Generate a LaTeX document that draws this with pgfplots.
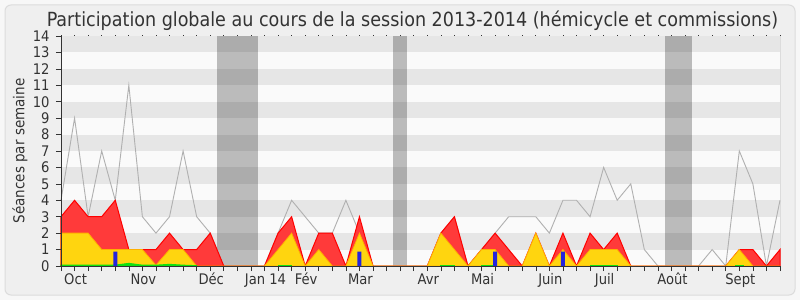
\documentclass[border=0pt]{standalone}
\usepackage{pgfplots}
\pgfplotsset{compat=1.18}
\usepackage{fontspec}
\setmainfont{DejaVu Sans Condensed}
\definecolor{txt}{HTML}{333333}
\definecolor{axisc}{HTML}{333333}
\definecolor{stripeg}{HTML}{E6E6E6}
\definecolor{stripew}{HTML}{FAFAFA}
\definecolor{grayline}{HTML}{B0B0B0}
\definecolor{redfill}{HTML}{FF3A3A}
\definecolor{rededge}{HTML}{FF0000}
\definecolor{yelfill}{HTML}{FFD50F}
\definecolor{yeledge}{HTML}{FFB000}
\definecolor{greenc}{HTML}{10E010}
\definecolor{bluebar}{HTML}{2424DC}
\definecolor{outerbg}{HTML}{F7F7F7}
\definecolor{innerbg}{HTML}{EFEFEF}
\definecolor{framec}{HTML}{DCDCDC}
\begin{document}
\begin{tikzpicture}
\path[use as bounding box, fill=outerbg] (0pt,0pt) rectangle (800pt,300pt);
\filldraw[fill=innerbg, draw=framec, line width=1pt, rounded corners=6pt] (5pt,5pt) rectangle (795pt,295pt);
\node[anchor=base, font=\fontsize{19.5}{22}\selectfont, text=txt] at (412.5pt,273.3pt) {Participation globale au cours de la session 2013-2014 (hémicycle et commissions)};
\begin{axis}[
  at={(61pt,34pt)}, anchor=south west,
  scale only axis, width=719pt, height=230pt,
  xmin=0, xmax=53, ymin=0, ymax=14,
  axis on top,
  axis x line=bottom, axis y line=left,
  axis line style={draw=axisc, line width=0.8pt, -},
  axis background/.style={fill=stripew},
  tick align=outside, major tick length=5pt,
  tick style={draw=axisc, line width=0.6pt},
  xtick={0,...,53},
  xticklabels={{},Oct,{},{},{},{},Nov,{},{},{},{},Déc,{},{},{},{Jan 14},{},{},Fév,{},{},{},Mar,{},{},{},{},Avr,{},{},{},Mai,{},{},{},{},Juin,{},{},{},Juil,{},{},{},{},Août,{},{},{},{},Sept,{},{},{}},
  ytick={0,...,14},
  /pgf/number format/assume math mode=true,
  tick label style={font=\fontsize{14.6}{16}\selectfont, text=txt},
  yticklabel style={anchor=east, xshift=-3pt},
  xticklabel style={anchor=base, yshift=-13pt, xshift=1pt},
  ylabel={Séances par semaine},
  ylabel style={at={(axis description cs:-0.057,0.5)}, anchor=center, font=\fontsize{15}{17}\selectfont, text=txt},
  clip=false,
]
\fill[stripeg] (axis cs:0,1) rectangle (axis cs:53,2);
\fill[stripeg] (axis cs:0,3) rectangle (axis cs:53,4);
\fill[stripeg] (axis cs:0,5) rectangle (axis cs:53,6);
\fill[stripeg] (axis cs:0,7) rectangle (axis cs:53,8);
\fill[stripeg] (axis cs:0,9) rectangle (axis cs:53,10);
\fill[stripeg] (axis cs:0,11) rectangle (axis cs:53,12);
\fill[stripeg] (axis cs:0,13) rectangle (axis cs:53,14);
\fill[black, opacity=0.25] (axis cs:11.5,0) rectangle (axis cs:14.5,14);
\fill[black, opacity=0.25] (axis cs:24.5,0) rectangle (axis cs:25.5,14);
\fill[black, opacity=0.25] (axis cs:44.5,0) rectangle (axis cs:46.5,14);
\draw[framec, line width=0.8pt] (axis cs:53,0) -- (axis cs:53,14);
\pgfplotsinvokeforeach{0,...,53}{\draw[axisc, line width=0.7pt] (axis cs:#1,14) -- ++(0pt,1.2pt);}
% gray line: median
\addplot[draw=grayline, line width=0.9pt, mark=none] coordinates {
(0,4) (1,9) (2,3) (3,7) (4,4) (5,11) (6,3) (7,2) (8,3) (9,7) (10,3) (11,2) (12,0) (13,0) (14,0) (15,0) (16,2) (17,4) (18,3) (19,2) (20,2) (21,4) (22,2) (23,0) (24,0) (25,0) (26,0) (27,0) (28,2) (29,3) (30,0) (31,1) (32,2) (33,3) (34,3) (35,3) (36,2) (37,4) (38,4) (39,3) (40,6) (41,4) (42,5) (43,1) (44,0) (45,0) (46,0) (47,0) (48,1) (49,0) (50,7) (51,5) (52,0) (53,4)};
% red area
\addplot[fill=redfill, draw=rededge, line width=1pt, mark=none] coordinates {
(0,3) (1,4) (2,3) (3,3) (4,4) (5,1) (6,1) (7,1) (8,2) (9,1) (10,1) (11,2) (12,0) (13,0) (14,0) (15,0) (16,2) (17,3) (18,0) (19,2) (20,2) (21,0) (22,3) (23,0) (24,0) (25,0) (26,0) (27,0) (28,2) (29,3) (30,0) (31,1) (32,2) (33,1) (34,0) (35,2) (36,0) (37,2) (38,0) (39,2) (40,1) (41,2) (42,0) (43,0) (44,0) (45,0) (46,0) (47,0) (48,0) (49,0) (50,1) (51,1) (52,0) (53,1)} \closedcycle;
% yellow area
\addplot[fill=yelfill, draw=yeledge, line width=0.8pt, mark=none] coordinates {
(0,2) (1,2) (2,2) (3,1) (4,1) (5,1) (6,1) (7,0.05) (8,1) (9,1) (10,0) (11,0) (12,0) (13,0) (14,0) (15,0) (16,1) (17,2) (18,0) (19,1) (20,0) (21,0) (22,2) (23,0) (24,0) (25,0) (26,0) (27,0) (28,2) (29,1) (30,0) (31,1) (32,1) (33,0) (34,0) (35,2) (36,0) (37,1) (38,0) (39,1) (40,1) (41,1) (42,0) (43,0) (44,0) (45,0) (46,0) (47,0) (48,0) (49,0) (50,1) (51,0) (52,0) (53,0)} \closedcycle;
% green
\addplot[fill=greenc, draw=greenc, line width=1pt, mark=none] coordinates {
(0,0.05) (1,0.05) (2,0.05) (3,0.05) (4,0.05) (5,0.16) (6,0.05) (7,0.05) (8,0.1) (9,0.05) (10,0.02)} \closedcycle;
\addplot[fill=greenc, draw=greenc, line width=1pt, mark=none] coordinates {(16,0.05) (17,0.05)} \closedcycle;
\addplot[fill=greenc, draw=greenc, line width=1pt, mark=none] coordinates {(28,0.05) (29,0.05)} \closedcycle;
\addplot[fill=greenc, draw=greenc, line width=1pt, mark=none] coordinates {(31,0.05) (32,0.05)} \closedcycle;
\addplot[fill=greenc, draw=greenc, line width=1pt, mark=none] coordinates {(39,0.05) (40,0.05) (41,0.05)} \closedcycle;
\addplot[fill=greenc, draw=greenc, line width=1pt, mark=none] coordinates {(49.7,0.05) (50.3,0.05)} \closedcycle;
% blue bars
\addplot[ybar, bar width=4pt, fill=bluebar, draw=none] coordinates {(4,0.87) (22,0.87) (32,0.87) (37,0.87)};
\end{axis}
\end{tikzpicture}
\end{document}
